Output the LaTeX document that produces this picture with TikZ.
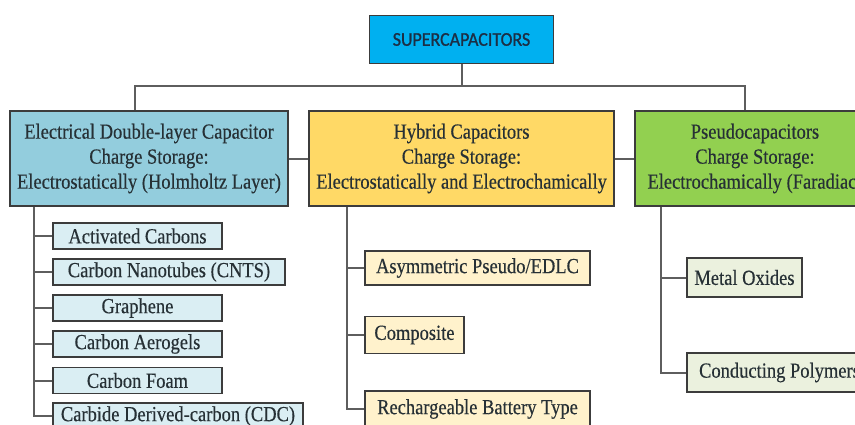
\documentclass[tikz,border=0pt]{standalone}
\usepackage{fontspec}
\setmainfont{Liberation Serif}
\newfontfamily\heavyserif[FakeStretch=0.86,FakeBold=0.4]{Liberation Serif}
\newfontfamily\capfont[FakeStretch=0.92,FakeBold=1.0]{Carlito}
\definecolor{linec}{HTML}{5E5E5E}
\definecolor{bordc}{HTML}{3C3C3C}
\definecolor{txtc}{HTML}{263035}
\definecolor{sctxt}{HTML}{1C2E44}
\definecolor{scfill}{HTML}{00B0F0}
\definecolor{edlcfill}{HTML}{93CDDD}
\definecolor{hybfill}{HTML}{FFD966}
\definecolor{psfill}{HTML}{92D050}
\definecolor{subL}{HTML}{DAEEF3}
\definecolor{subM}{HTML}{FFF2CC}
\definecolor{subR}{HTML}{EBF1DE}
\begin{document}
\begin{tikzpicture}[x=1pt,y=-1pt,
  box/.style={draw=bordc, line width=1.8pt, inner sep=0pt, align=center, text=txtc,
              font=\heavyserif\fontsize{21.5}{25}\selectfont},
  catbox/.style={box, minimum height=95pt},
  subbox/.style={box},
  conn/.style={draw=linec, line width=2pt}]
\useasboundingbox (0,0) rectangle (855,424);
\fill[white] (0,0) rectangle (855,424);
\clip (0,0) rectangle (855,424);

% top
\node[box, fill=scfill, minimum width=184pt, minimum height=48pt, text=sctxt,
      font=\capfont\fontsize{19.5}{20}\selectfont] (sc) at (461.5,39.5) {SUPERCAPACITORS};

% categories
\node[catbox, fill=edlcfill, minimum width=278pt] (edlc) at (149,158.5)
  {Electrical Double-layer Capacitor\\Charge Storage:\\Electrostatically (Holmholtz Layer)};
\node[catbox, fill=hybfill, minimum width=305pt] (hyb) at (461.5,158.5)
  {Hybrid Capacitors\\Charge Storage:\\Electrostatically and Electrochamically};
\node[catbox, fill=psfill, minimum width=240pt] (ps) at (755,158.5)
  {Pseudocapacitors\\Charge Storage:\\Electrochamically (Faradiac)};

% left children
\node[subbox, fill=subL, minimum width=169pt, minimum height=26pt] (ac) at (137.5,236) {Activated Carbons};
\node[subbox, fill=subL, minimum width=232pt, minimum height=26pt] (cnt) at (169,272) {Carbon Nanotubes (CNTS)};
\node[subbox, fill=subL, minimum width=169pt, minimum height=26pt] (gr) at (137.5,308) {Graphene};
\node[subbox, fill=subL, minimum width=169pt, minimum height=26pt] (ca) at (137.5,344) {Carbon Aerogels};
\node[subbox, fill=subL, minimum width=169pt, minimum height=26pt] (cf) at (137.5,380.5) {Carbon Foam};
\node[subbox, fill=subL, minimum width=250pt, minimum height=26pt] (cdc) at (178,416) {Carbide Derived-carbon (CDC)};

% middle children
\node[subbox, fill=subM, minimum width=225pt, minimum height=34pt] (asy) at (477.5,268) {Asymmetric Pseudo/EDLC};
\node[subbox, fill=subM, minimum width=99pt, minimum height=37pt] (comp) at (414.5,335) {Composite};
\node[subbox, fill=subM, minimum width=225pt, minimum height=36pt] (rech) at (477.5,409) {Rechargeable Battery Type};

% right children
\node[subbox, fill=subR, minimum width=115pt, minimum height=39pt] (mo) at (744.5,277.5) {Metal Oxides};
\node[subbox, fill=subR, minimum width=185pt, minimum height=39pt] (cp) at (779.5,372.5) {Conducting Polymers};

% bus
\coordinate (busL) at (135,86);
\coordinate (busR) at (745,86);
\draw[conn] (sc.south) -- (sc.south |- busL);
\draw[conn] (edlc.north -| busL) -- (busL) -- (busR) -- (ps.north -| busR);
\draw[conn] (edlc.east) -- (hyb.west);
\draw[conn] (hyb.east) -- (ps.west);

% left tree
\foreach \c in {ac,cnt,gr,ca,cf,cdc}
  \draw[conn] ([xshift=25pt]edlc.south west) |- (\c.west);
% middle tree
\foreach \c in {asy,comp,rech}
  \draw[conn] ([xshift=39pt]hyb.south west) |- (\c.west);
% right tree
\foreach \c in {mo,cp}
  \draw[conn] ([xshift=27pt]ps.south west) |- (\c.west);
\end{tikzpicture}
\end{document}
